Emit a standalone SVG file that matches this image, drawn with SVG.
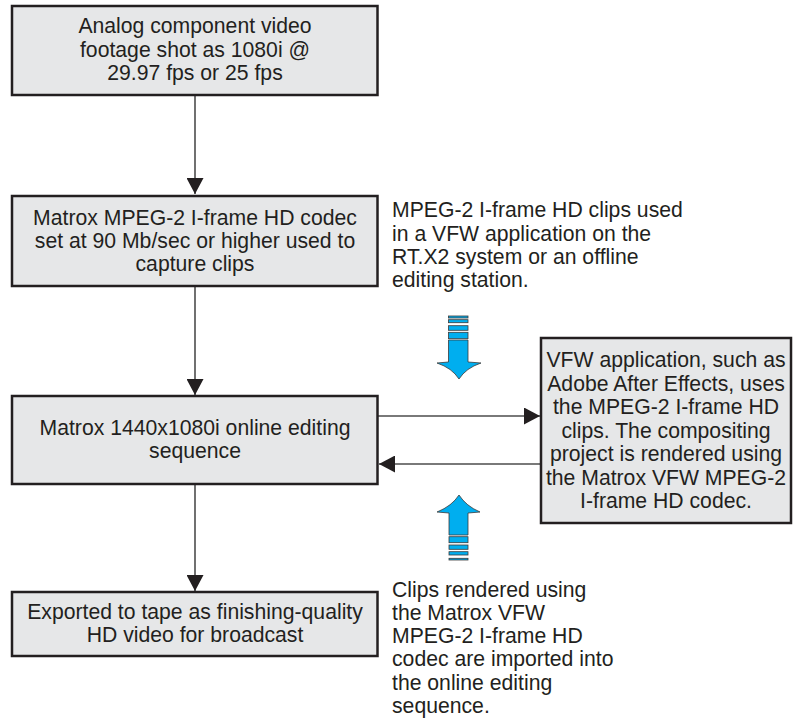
<svg xmlns="http://www.w3.org/2000/svg" width="794" height="718" viewBox="0 0 794 718">
<style>
.box{fill:#e6e7e8;stroke:#231f20;stroke-width:2.5}
.t{font-family:"Liberation Sans",Arial,sans-serif;font-size:21.2px;fill:#231f20}
.c{text-anchor:middle}
.ln{fill:none;stroke:#4d4d4d;stroke-width:1.6}
.blue{fill:#00aeef;stroke:#3a3a3a;stroke-width:0.8}
</style>
<defs>
<marker id="ah" markerUnits="userSpaceOnUse" markerWidth="16" markerHeight="17" refX="16" refY="8.5" orient="auto" viewBox="0 0 16 17">
<path d="M0,0 L16,8.5 L0,17 Z" fill="#231f20"/>
</marker>
</defs>
<rect width="794" height="718" fill="#ffffff"/>
<g id="connectors">
<path class="ln" d="M195,96 V194" marker-end="url(#ah)"/>
<path class="ln" d="M195,287 V395" marker-end="url(#ah)"/>
<path class="ln" d="M378,416 H540" marker-end="url(#ah)"/>
<path class="ln" d="M540,464 H379" marker-end="url(#ah)"/>
<path class="ln" d="M195,485 V591" marker-end="url(#ah)"/>
</g>
<g id="node1">
<rect class="box" x="12" y="6" width="365.5" height="89"/>
<text class="t c" x="195" y="33">Analog component video</text>
<text class="t c" x="195" y="56.5">footage shot as 1080i @</text>
<text class="t c" x="195" y="80">29.97 fps or 25 fps</text>
</g>
<g id="node2">
<rect class="box" x="12" y="196" width="365.5" height="90"/>
<text class="t c" x="195" y="225">Matrox MPEG-2 I-frame HD codec</text>
<text class="t c" x="195" y="248">set at 90 Mb/sec or higher used to</text>
<text class="t c" x="195" y="271">capture clips</text>
</g>
<g id="note1">
<text class="t" x="392" y="217">MPEG-2 I-frame HD clips used</text>
<text class="t" x="392" y="240.5">in a VFW application on the</text>
<text class="t" x="392" y="264">RT.X2 system or an offline</text>
<text class="t" x="392" y="287">editing station.</text>
</g>
<g id="blue-down">
<rect class="blue" x="448.5" y="316" width="19.5" height="2"/>
<rect class="blue" x="448.5" y="319.7" width="19.5" height="3"/>
<rect class="blue" x="448.5" y="325.7" width="19.5" height="4.6"/>
<rect class="blue" x="448.5" y="332.3" width="19.5" height="6.4"/>
<path class="blue" d="M448.5,340 H468 V362 L481,363 Q466,368 459,379 Q452,368 437,363 L448.5,362 Z"/>
</g>
<g id="node3">
<rect class="box" x="12" y="396" width="365.5" height="88"/>
<text class="t c" x="195" y="435">Matrox 1440x1080i online editing</text>
<text class="t c" x="195" y="458">sequence</text>
</g>
<g id="node-vfw">
<rect class="box" x="541" y="338" width="250" height="185"/>
<text class="t c" x="666" y="367">VFW application, such as</text>
<text class="t c" x="666" y="390.5">Adobe After Effects, uses</text>
<text class="t c" x="666" y="414">the MPEG-2 I-frame HD</text>
<text class="t c" x="666" y="437.5">clips. The compositing</text>
<text class="t c" x="666" y="461">project is rendered using</text>
<text class="t c" x="666" y="484.5">the Matrox VFW MPEG-2</text>
<text class="t c" x="666" y="508">I-frame HD codec.</text>
</g>
<g id="blue-up">
<path class="blue" d="M459,495 Q466,506 480,512 L468,513 V535 H449 V513 L437,512 Q452,506 459,495 Z"/>
<rect class="blue" x="449" y="536.7" width="19" height="6"/>
<rect class="blue" x="449" y="545" width="19" height="4.3"/>
<rect class="blue" x="449" y="551.7" width="19" height="3.3"/>
<rect class="blue" x="449" y="558.3" width="19" height="1.7"/>
</g>
<g id="node4">
<rect class="box" x="12" y="592" width="365.5" height="64"/>
<text class="t c" x="195" y="619">Exported to tape as finishing-quality</text>
<text class="t c" x="195" y="642">HD video for broadcast</text>
</g>
<g id="note2">
<text class="t" x="392" y="597">Clips rendered using</text>
<text class="t" x="392" y="620">the Matrox VFW</text>
<text class="t" x="392" y="643">MPEG-2 I-frame HD</text>
<text class="t" x="392" y="666">codec are imported into</text>
<text class="t" x="392" y="689.5">the online editing</text>
<text class="t" x="392" y="713">sequence.</text>
</g>
</svg>
